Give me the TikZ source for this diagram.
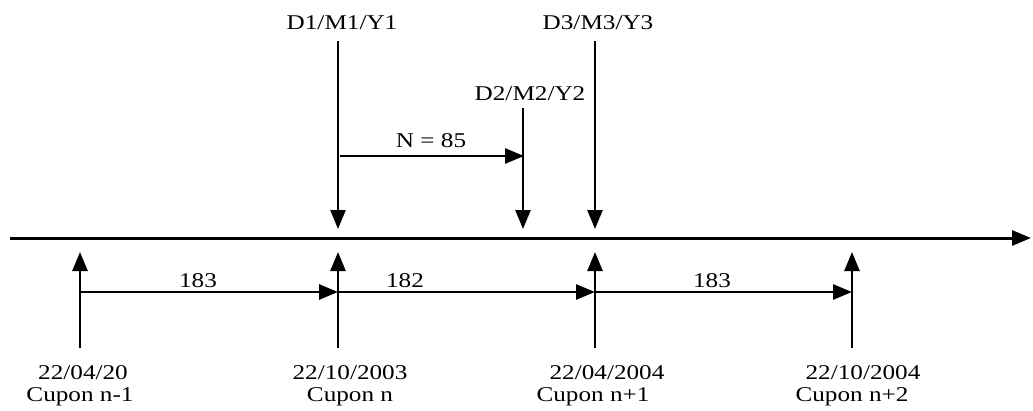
\documentclass[tikz,border=0pt]{standalone}
\usepackage{fontspec}
\setmainfont{Liberation Serif}
\newfontfamily\lblfont[FakeStretch=1.2]{Liberation Serif}
\usetikzlibrary{arrows.meta}
\begin{document}
\begin{tikzpicture}[x=1pt,y=-1pt,
  lbl/.style={inner sep=0pt,anchor=base,font=\lblfont\fontsize{21}{23}\selectfont},
  arr/.style={line width=2.6pt,-{Triangle[length=19pt,width=15pt]}},
  axis/.style={line width=3pt,-{Triangle[length=19pt,width=15pt]}}]
\useasboundingbox (0,0) rectangle (1033,410);
% main axis
\coordinate (a0) at (10,238);
\coordinate (a1) at (1031,238);
\draw[axis] (a0) -- (a1);
% coupon verticals
\foreach \n/\x in {c1/80,c2/338,c3/595,c4/852}{
  \coordinate (\n b) at (\x,348);
  \coordinate (\n t) at (\x,252);
  \coordinate (\n m) at (\x,292);
  \draw[arr] (\n b) -- (\n t);
}
% day-count arrows
\draw[arr] (c1m) -- (c2m);
\draw[arr] (c2m) -- (c3m);
\draw[arr] (c3m) -- (c4m);
\node[lbl] (l1) at (198,287) {183};
\node[lbl] (l2) at (405,287) {182};
\node[lbl] (l3) at (712,287) {183};
% bottom labels
\node[lbl] (d1) at (83,379) {22/04/20};
\node[lbl] (n1) at (80,401) {Cupon n-1};
\node[lbl] (d2) at (350,379) {22/10/2003};
\node[lbl] (n2) at (350,401) {Cupon n};
\node[lbl] (d3) at (607,379) {22/04/2004};
\node[lbl] (n3) at (593,401) {Cupon n+1};
\node[lbl] (d4) at (863,379) {22/10/2004};
\node[lbl] (n4) at (852,401) {Cupon n+2};
% top labels and arrows
\node[lbl] (t1) at (342,29) {D1/M1/Y1};
\node[lbl] (t2) at (530,100) {D2/M2/Y2};
\node[lbl] (t3) at (598,29) {D3/M3/Y3};
\coordinate (u1) at (338,41);
\coordinate (u1e) at (338,229);
\coordinate (u2) at (523,108);
\coordinate (u2e) at (523,229);
\coordinate (u3) at (595,41);
\coordinate (u3e) at (595,229);
\draw[arr] (u1) -- (u1e);
\draw[arr] (u2) -- (u2e);
\draw[arr] (u3) -- (u3e);
\coordinate (nS) at (340,156);
\coordinate (nE) at (524,156);
\draw[arr] (nS) -- (nE);
\node[lbl] (nl) at (431,147) {N = 85};
\end{tikzpicture}
\end{document}
